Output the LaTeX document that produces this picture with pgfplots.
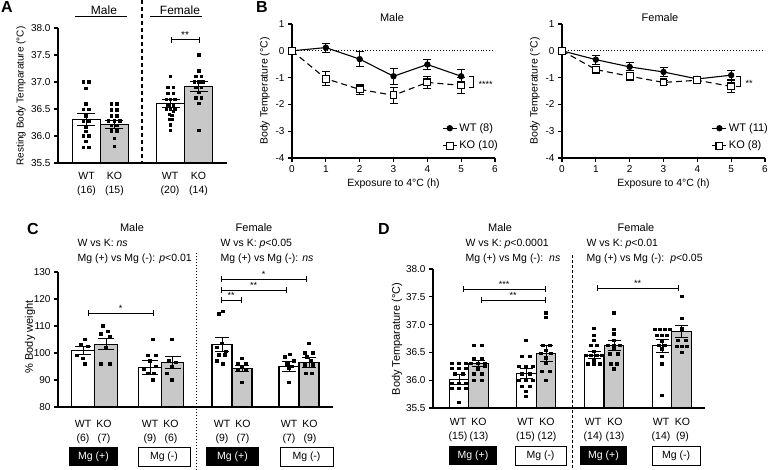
\documentclass[border=0pt]{standalone}
\usepackage{pgfplots}
\pgfplotsset{compat=1.18}
\usepackage{fontspec}
\setmainfont{Liberation Sans}
\definecolor{kogray}{RGB}{200,200,200}
\newcommand{\fs}[1]{\fontsize{#1}{#1}\selectfont}

\pgfplotsset{
  base/.style={scale only axis, anchor=south west, axis lines*=left,
    axis line style={line width=1.1pt, black},
    tick style={line width=1.1pt, black},
    major tick length=4pt, tick align=outside,
    tick label style={font=\fs{10}},
    /pgf/number format/assume math mode=true},
  barax/.style={base, xtick=\empty},
  errs/.style={error bars/y dir=both, error bars/y explicit,
     error bars/error bar style={line width=1pt, black, solid},
     error bars/error mark options={rotate=90, mark size=#1, line width=1pt, black, solid}},
  wtbar/.style={ybar, bar shift=0pt, bar width=#1, fill=white, draw=black, line width=1.1pt},
  kobar/.style={ybar, bar shift=0pt, bar width=#1, fill=kogray, draw=black, line width=1.1pt},
  pts/.style={only marks, mark=square*, mark size=#1, black, mark options={line width=0pt}},
  onedec/.style={yticklabel style={/pgf/number format/fixed, /pgf/number format/fixed zerofill, /pgf/number format/precision=1}},
  lgd/.style={legend style={at={(1.025,0.04)}, anchor=south east, draw=none, fill=none, font=\fs{11}, inner sep=0pt, row sep=4pt, cells={anchor=west}},
    legend image code/.code={\draw[mark repeat=2, mark phase=2, ##1] plot coordinates {(0pt,0pt) (7pt,0pt) (14pt,0pt)};}},
  wtline/.style={black, line width=1.1pt, mark=*, mark size=2.6pt, errs=4pt},
  koline/.style={black, line width=1.1pt, dash pattern=on 6pt off 4pt, mark=square*, mark options={solid, fill=white}, mark size=3.4pt, errs=4pt},
}

\begin{document}
\begin{tikzpicture}
\useasboundingbox (0pt,0pt) rectangle (770pt,-470pt);

% ---------------- Panel A ----------------
\begin{axis}[barax, onedec, at={(58pt,-163pt)}, width=169pt, height=135pt,
  xmin=0, xmax=6, ymin=35.5, ymax=38, ytick={35.5,36,36.5,37,37.5,38}]
\addplot[wtbar=1, errs=9pt] coordinates {(1,36.31) +- (0,0.11) (4,36.60) +- (0,0.08)};
\addplot[kobar=1, errs=9pt] coordinates {(2,36.21) +- (0,0.07) (5,36.91) +- (0,0.09)};
\addplot[pts=1.2pt] coordinates {
 (0.9,37.0) (1.1,37.0) (1.0,36.88) (1.0,36.59) (0.9,36.49) (1.1,36.49) (1.0,36.37) (0.9,36.28)
 (1.1,36.28) (1.0,36.17) (1.0,36.08) (0.9,36.0) (1.1,36.0) (1.0,35.9) (0.9,35.79) (1.1,35.79)};
\addplot[pts=1.2pt] coordinates {
 (1.9,36.59) (2.1,36.59) (1.9,36.48) (2.1,36.48) (1.9,36.37) (2.1,36.37) (1.8,36.28) (2.0,36.28)
 (2.2,36.28) (1.9,36.19) (2.1,36.19) (1.9,36.09) (2.1,36.09) (2.0,35.95) (2.0,35.8)};
\addplot[pts=1.2pt] coordinates {
 (4.0,37.1) (3.9,36.9) (4.1,36.9) (3.9,36.79) (4.1,36.79) (3.85,36.68) (4.0,36.68) (4.15,36.68)
 (3.9,36.57) (4.1,36.57) (3.85,36.49) (4.0,36.49) (4.15,36.49) (3.95,36.4) (4.05,36.38)
 (3.95,36.3) (4.05,36.3) (4.0,36.2) (4.0,36.1) (4.1,36.45)};
\addplot[pts=1.2pt] coordinates {
 (5.0,37.5) (5.0,37.2) (4.9,37.1) (5.1,37.1) (4.85,37.0) (5.0,37.0) (5.15,37.0) (4.9,36.9)
 (5.1,36.9) (5.0,36.8) (4.9,36.7) (5.1,36.7) (5.0,36.6) (5.0,36.1)};
\end{axis}

% ---------------- Panel B male ----------------
\begin{axis}[base, lgd, at={(292pt,-158pt)}, width=203pt, height=134pt,
  xmin=0, xmax=6, ymin=-4, ymax=1, xtick={0,1,2,3,4,5,6}, ytick={-4,-3,-2,-1,0,1}, clip=false]
\addplot[forget plot, black, line width=0.9pt, dotted] coordinates {(0,0) (6,0)};
\addplot[wtline] coordinates {(0,0) +- (0,0) (1,0.12) +- (0,0.17) (2,-0.31) +- (0,0.27)
  (3,-0.95) +- (0,0.3) (4,-0.51) +- (0,0.2) (5,-0.95) +- (0,0.24)};
\addplot[koline] coordinates {(0,0) +- (0,0) (1,-1.04) +- (0,0.25) (2,-1.44) +- (0,0.19)
  (3,-1.66) +- (0,0.29) (4,-1.18) +- (0,0.22) (5,-1.29) +- (0,0.3)};
\legend{WT (8), KO (10)}
\end{axis}

% ---------------- Panel B female ----------------
\begin{axis}[base, lgd, at={(562pt,-158pt)}, width=203pt, height=134pt,
  xmin=0, xmax=6, ymin=-4, ymax=1, xtick={0,1,2,3,4,5,6}, ytick={-4,-3,-2,-1,0,1}, clip=false]
\addplot[forget plot, black, line width=0.9pt, dotted] coordinates {(0,0) (6,0)};
\addplot[wtline] coordinates {(0,0) +- (0,0) (1,-0.33) +- (0,0.17) (2,-0.6) +- (0,0.15)
  (3,-0.79) +- (0,0.16) (4,-1.05) +- (0,0.1) (5,-0.91) +- (0,0.17)};
\addplot[koline] coordinates {(0,0) +- (0,0) (1,-0.7) +- (0,0.08) (2,-0.95) +- (0,0.15)
  (3,-1.18) +- (0,0.08) (4,-1.1) +- (0,0.05) (5,-1.33) +- (0,0.24)};
\legend{WT (11), KO (8)}
\end{axis}

% ---------------- Panel C ----------------
\begin{axis}[barax, at={(58pt,-407pt)}, width=275pt, height=135pt,
  xmin=58, xmax=333, ymin=80, ymax=130, ytick={80,90,100,110,120,130}]
\addplot[wtbar=22.5, errs=8pt] coordinates {(83,100.9) +- (0,1.4) (150,94.7) +- (0,2.5)};
\addplot[kobar=22.5, errs=8pt] coordinates {(106,103.3) +- (0,2.1) (172.5,96.4) +- (0,2.2)};
\addplot[wtbar=20, errs=7pt] coordinates {(222,103.2) +- (0,2.5) (289,94.9) +- (0,1.9)};
\addplot[kobar=20, errs=7pt] coordinates {(242,94.3) +- (0,1.2) (309,96.4) +- (0,1.9)};
\addplot[pts=1.2pt] coordinates {(85,105) (81,103) (88,102.5) (77,99) (83,98) (85,96)};
\addplot[pts=1.2pt] coordinates {(103,110) (108,108) (101,107) (110,106) (106,102) (101,96) (110,96)};
\addplot[pts=1.2pt] coordinates {(153,105) (148,99) (156,99) (150,97) (156,95) (144,94) (148,92.5) (154,92.5) (153,90)};
\addplot[pts=1.2pt] coordinates {(172,105) (169,97) (176,96.5) (172,95) (167,92.5) (172,90)};
\addplot[pts=1.2pt] coordinates {(219,114.5) (223,115.3) (222,103.5) (217,102) (226,100.5) (219,99.3) (225,99.3) (217,97) (223,96)};
\addplot[pts=1.2pt] coordinates {(242,98) (238,96) (246,96) (242,95) (238,94) (246,94) (242,89)};
\addplot[pts=1.2pt] coordinates {(290,99.4) (285,98.5) (294,97) (287,96) (292,95) (289,94.3) (289,89)};
\addplot[pts=1.2pt] coordinates {(309,103.6) (305,100) (313,100) (307,98.5) (311,97) (305,95.5) (313,95.5) (306,92.5) (312,92.5)};
\end{axis}

% ---------------- Panel D ----------------
\begin{axis}[barax, onedec, at={(433pt,-408pt)}, width=272pt, height=139pt,
  xmin=433, xmax=705, ymin=35.5, ymax=38, ytick={35.5,36,36.5,37,37.5,38}]
\addplot[wtbar=19.5, errs=6.5pt] coordinates {(459,36.02) +- (0,0.09) (526.5,36.12) +- (0,0.09) (594,36.45) +- (0,0.06) (662,36.62) +- (0,0.12)};
\addplot[kobar=19.5, errs=6.5pt] coordinates {(478.5,36.30) +- (0,0.06) (546,36.48) +- (0,0.15) (614,36.63) +- (0,0.09) (681.5,36.87) +- (0,0.11)};
\addplot[pts=1.1pt] coordinates {(452,36.30) (459,36.30) (466,36.30) (452,36.21) (459,36.21) (466,36.21)
 (455,36.11) (463,36.11) (452,35.94) (459,35.94) (466,35.94) (452,35.85) (459,35.85) (466,35.85) (459,35.6)};
\addplot[pts=1.1pt] coordinates {(474,36.62) (482,36.62) (474,36.39) (482,36.39) (471,36.30) (478,36.30)
 (485,36.30) (478,36.2) (474,36.11) (482,36.11) (474,36.0) (482,36.0) (485,36.25)};
\addplot[pts=1.1pt] coordinates {(526,36.71) (522,36.42) (530,36.42) (519,36.24) (526,36.24) (533,36.24)
 (522,36.11) (530,36.11) (519,36.0) (526,36.0) (533,36.0) (522,35.88) (530,35.88) (526,35.79) (526,35.7)};
\addplot[pts=1.1pt] coordinates {(546,37.21) (546,37.13) (543,36.62) (550,36.62) (546,36.54) (541,36.48)
 (551,36.48) (546,36.3) (542,36.15) (550,36.15) (546,36.0) (546,36.4)};
\addplot[pts=1.1pt] coordinates {(594,36.93) (594,36.8) (594,36.71) (591,36.62) (597,36.62) (594,36.51)
 (586,36.44) (591,36.44) (597,36.44) (602,36.44) (594,36.36) (588,36.29) (594,36.29) (600,36.29)};
\addplot[pts=1.1pt] coordinates {(614,37.21) (614,36.91) (614,36.83) (614,36.71) (608,36.63) (614,36.63)
 (620,36.63) (614,36.56) (610,36.47) (618,36.47) (611,36.29) (617,36.29) (614,36.2)};
\addplot[pts=1.1pt] coordinates {(655,36.91) (660,36.91) (665,36.91) (670,36.91) (657,36.81) (662,36.81)
 (667,36.81) (659,36.63) (665,36.63) (662,36.56) (662,36.42) (662,36.29) (662,35.72) (662,36.7)};
\addplot[pts=1.1pt] coordinates {(682,37.51) (682,37.11) (682,36.92) (678,36.72) (686,36.72) (677,36.6)
 (682,36.6) (687,36.6) (682,36.5)};
\end{axis}

% ---------------- annotations ----------------
\begin{scope}[x=1pt, y=-1pt]
\tikzset{brk/.style={line width=1pt}}
% panel letters
\node[font=\bfseries\fs{16}, anchor=base] at (7,13) {A};
\node[font=\bfseries\fs{16}, anchor=base] at (262,13) {B};
\node[font=\bfseries\fs{16}, anchor=base] at (33,235) {C};
\node[font=\bfseries\fs{16}, anchor=base] at (384,235) {D};

% Panel A
\node[font=\fs{12}, anchor=base] at (104,15) {Male};
\node[font=\fs{12}, anchor=base] at (180,15) {Female};
\draw[line width=1.1pt] (75,16.5) -- (127,16.5) (150,16.5) -- (202,16.5);
\draw[line width=1.1pt, dash pattern=on 4pt off 3pt] (142,0) -- (142,163);
\draw[brk] (171,40) -- (199,40) (171,37) -- (171,43) (199,37) -- (199,43);
\node[font=\fs{10}, anchor=base] at (185,38.5) {**};
\node[font=\fs{10}, rotate=90] at (21,96) {Resting Body Temparature (°C)};
\foreach \x/\a/\b in {86.5/WT/(16), 114.5/KO/(15), 170/WT/(20), 198.5/KO/(14)}{
  \node[font=\fs{10.5}, anchor=base] at (\x,180) {\a};
  \node[font=\fs{10.5}, anchor=base] at (\x,194) {\b};
}

% Panel B
\node[font=\fs{11}, anchor=base] at (392,21.5) {Male};
\node[font=\fs{11}, anchor=base] at (660,21.5) {Female};
\node[font=\fs{10.5}, anchor=base] at (393.5,187) {Exposure to 4°C (h)};
\node[font=\fs{10.5}, anchor=base] at (663.5,187) {Exposure to 4°C (h)};
\node[font=\fs{10.5}, rotate=90] at (265,91) {Body Temperature (°C)};
\node[font=\fs{10.5}, rotate=90] at (535,91) {Body Temperature (°C)};
\draw[line width=1pt] (469,77) -- (473,77) -- (473,88) -- (469,88);
\node[font=\fs{9}, anchor=base west] at (475,88) {****};
\draw[line width=1pt] (736,77) -- (740,77) -- (740,87) -- (736,87);
\node[font=\fs{9}, anchor=base west] at (742,87) {**};

% Panel C
\node[font=\fs{11}, anchor=base] at (132,232) {Male};
\node[font=\fs{10.5}, anchor=base west] at (74,247) {W vs K: \textit{ns}};
\node[font=\fs{10.5}, anchor=base west] at (74,261) {Mg (+) vs Mg (-): \textit{p}<0.01};
\node[font=\fs{11}, anchor=base] at (254,232) {Female};
\node[font=\fs{10.5}, anchor=base west] at (217,247) {W vs K: \textit{p}<0.05};
\node[font=\fs{10.5}, anchor=base west] at (217,261) {Mg (+) vs Mg (-): \textit{ns}};
\node[font=\fs{11}, rotate=90] at (30,337) {\% Body weight};
\draw[line width=1pt, dotted] (196,253) -- (196,470);
\draw[brk] (88,313) -- (153,313) (88,310) -- (88,316) (153,310) -- (153,316);
\node[font=\fs{9}, anchor=base] at (120.5,311.5) {*};
\draw[brk] (221,279) -- (306,279) (221,276) -- (221,282) (306,276) -- (306,282);
\node[font=\fs{9}, anchor=base] at (263.5,277.5) {*};
\draw[brk] (221,290) -- (286,290) (221,287) -- (221,293) (286,287) -- (286,293);
\node[font=\fs{9}, anchor=base] at (253.5,288.5) {**};
\draw[brk] (221,300) -- (241,300) (221,297) -- (221,303) (241,297) -- (241,303);
\node[font=\fs{9}, anchor=base] at (231,298.5) {**};
\foreach \x/\a/\b in {83/WT/(6), 104/KO/(7), 150/WT/(9), 171/KO/(6), 222/WT/(9), 243/KO/(7), 289/WT/(7), 310/KO/(9)}{
  \node[font=\fs{10.5}, anchor=base] at (\x,427) {\a};
  \node[font=\fs{10.5}, anchor=base] at (\x,441) {\b};
}
\fill[black] (69,447) rectangle (118,466);
\node[font=\fs{10.5}, white] at (93.5,456.5) {Mg (+)};
\draw[line width=1pt] (138,447) rectangle (190,466);
\node[font=\fs{10.5}] at (164,456.5) {Mg (-)};
\fill[black] (206,447) rectangle (259,466);
\node[font=\fs{10.5}, white] at (232.5,456.5) {Mg (+)};
\draw[line width=1pt] (280,447) rectangle (333,466);
\node[font=\fs{10.5}] at (306.5,456.5) {Mg (-)};

% Panel D
\node[font=\fs{11}, anchor=base] at (500,231.5) {Male};
\node[font=\fs{10.5}, anchor=base west] at (462,247) {W vs K: \textit{p}<0.0001};
\node[font=\fs{10.5}, anchor=base west] at (462,261) {Mg (+) vs Mg (-):\ \ \textit{ns}};
\node[font=\fs{11}, anchor=base] at (636,231.5) {Female};
\node[font=\fs{10.5}, anchor=base west] at (583,247) {W vs K: \textit{p}<0.01};
\node[font=\fs{10.5}, anchor=base west] at (583,261) {Mg (+) vs Mg (-):\ \ \textit{p}<0.05};
\node[font=\fs{11}, rotate=90] at (397,339) {Body Temparature (°C)};
\draw[line width=0.9pt, dash pattern=on 3pt off 2pt] (572,255) -- (572,470);
\draw[brk] (463,289) -- (545,289) (463,286) -- (463,292) (545,286) -- (545,292);
\node[font=\fs{9}, anchor=base] at (504,287) {***};
\draw[brk] (481,300) -- (545,300) (481,297) -- (481,303) (545,297) -- (545,303);
\node[font=\fs{9}, anchor=base] at (513,298) {**};
\draw[brk] (597,288) -- (678,288) (597,285) -- (597,291) (678,285) -- (678,291);
\node[font=\fs{9}, anchor=base] at (637.5,286) {**};
\foreach \x/\a/\b in {458/WT/(15), 479/KO/(13), 525.5/WT/(15), 547/KO/(12), 593/WT/(14), 615/KO/(13), 661/WT/(14), 682.5/KO/(9)}{
  \node[font=\fs{10.5}, anchor=base] at (\x,425.5) {\a};
  \node[font=\fs{10.5}, anchor=base] at (\x,439) {\b};
}
\fill[black] (449,446) rectangle (497,465);
\node[font=\fs{10.5}, white] at (473,455.5) {Mg (+)};
\draw[line width=1pt] (515,446) rectangle (566,465);
\node[font=\fs{10.5}] at (540.5,455.5) {Mg (-)};
\fill[black] (580,446) rectangle (627,465);
\node[font=\fs{10.5}, white] at (603.5,455.5) {Mg (+)};
\draw[line width=1pt] (652,446) rectangle (700,465);
\node[font=\fs{10.5}] at (676,455.5) {Mg (-)};
\end{scope}
\end{tikzpicture}
\end{document}
